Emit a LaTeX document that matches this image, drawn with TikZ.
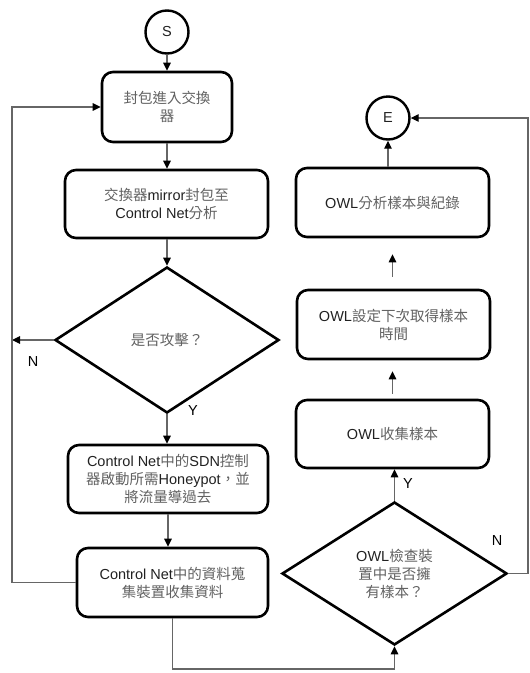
\documentclass[tikz,border=0pt]{standalone}
\usepackage{fontspec}
\setmainfont{Liberation Sans}
\newfontfamily\zhfont{Noto Sans CJK TC}
\usetikzlibrary{shapes.geometric,arrows.meta}
\definecolor{zhgray}{gray}{0.38}
\definecolor{latgray}{gray}{0.13}
\definecolor{linegray}{gray}{0.40}
\newcommand\zh[1]{{\zhfont\color{zhgray}#1}}
\begin{document}
\begin{tikzpicture}[x=1pt,y=-1pt,
  every node/.style={font=\fontsize{14.5}{18}\selectfont, text=latgray},
  box/.style={draw, line width=2.6pt, rounded corners=11pt, align=center, inner sep=0pt},
  circ/.style={circle, draw, line width=2.4pt, minimum size=43pt, inner sep=0pt},
  dec/.style={diamond, draw, line width=2.6pt, align=center, inner sep=0pt},
  conn/.style={draw=linegray, line width=1.1pt, -{Triangle[length=8pt,width=7.5pt,color=black]}},
  lab/.style={text=black}]
\useasboundingbox (0,0) rectangle (530,673);

% left column
\node[circ] (S) at (167,32) {S};
\node[box, minimum width=130pt, minimum height=70pt] (b1) at (167,107) {\zh{封包進入交換}\\\zh{器}};
\node[box, minimum width=203pt, minimum height=68pt] (b2) at (166.5,204) {\zh{交換器}mirror\zh{封包至}\\Control Net\zh{分析}};
\node[dec, minimum width=224pt, minimum height=146pt] (d1) at (167,340) {\raisebox{-5pt}{\zh{是否攻擊？}}};
\node[box, minimum width=200pt, minimum height=68pt] (b3) at (168,479) {Control Net\zh{中的}SDN\zh{控制}\\\zh{器啟動所需}Honeypot\zh{，並}\\\zh{將流量導過去}};
\node[box, minimum width=191pt, minimum height=69pt] (b4) at (172.5,582.5) {Control Net\zh{中的資料蒐}\\\zh{集裝置收集資料}};

% right column
\node[circ] (E) at (388,118) {E};
\node[box, minimum width=193pt, minimum height=69pt] (r1) at (392.5,202.5) {OWL\zh{分析樣本與紀錄}};
\node[box, minimum width=193pt, minimum height=69pt] (r2) at (393.5,324.5) {OWL\zh{設定下次取得樣本}\\\zh{時間}};
\node[box, minimum width=193pt, minimum height=68pt] (r3) at (392.5,434) {OWL\zh{收集樣本}};
\node[dec, minimum width=225pt, minimum height=143pt] (d2) at (394.5,573.5) {OWL\zh{檢查裝}\\\zh{置中是否擁}\\\zh{有樣本？}};

% corner coordinates
\coordinate (cL1) at (12,340);
\coordinate (cL2) at (12,582.5);
\coordinate (cL3) at (12,107);
\coordinate (cB1) at (172.5,669);
\coordinate (cB2) at (394.5,669);
\coordinate (cR1) at (528,573.5);
\coordinate (cR2) at (528,118);

% connectors
\draw[conn] (S) -- (b1);
\draw[conn] (b1.south) -- (b1.south |- b2.north);
\draw[conn] (b2.south -| d1.north) -- (d1.north);
\draw[conn] (d1.south) -- (d1.south |- b3.north);
\draw[conn] (b3.south) -- (b3.south |- b4.north);
\draw[conn] (d1.west) -- (cL1);
\draw[conn] (b4.west) -- (cL2) -- (cL3) -- (b1.west);
\draw[conn] (b4.south) -- (cB1) -- (cB2) -- (d2.south);
\draw[conn] (d2.north) -- (d2.north |- r3.south);
\draw[conn, shorten <=5pt, shorten >=11pt] (r3.north) -- (r3.north |- r2.south);
\draw[conn, shorten <=12pt, shorten >=16pt] (r2.north -| r3.north) -- (r3.north |- r1.south);
\draw[conn] (E |- r1.north) -- (E.south);
\draw[conn] (d2.east) -- (cR1) -- (cR2) -- (E.east);

% labels
\node[lab] (lN1) at (33,362) {N};
\node[lab] (lY1) at (193,411) {Y};
\node[lab] (lY2) at (408,484) {Y};
\node[lab] (lN2) at (497,541) {N};
\end{tikzpicture}
\end{document}
